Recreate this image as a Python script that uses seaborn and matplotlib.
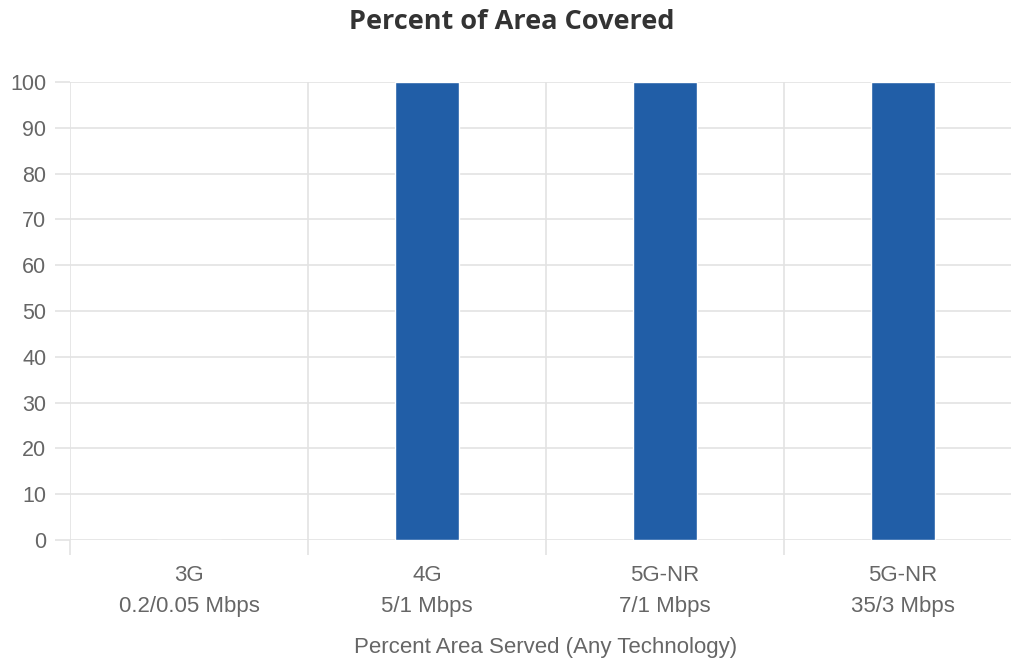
import matplotlib
matplotlib.use("Agg")
import matplotlib.pyplot as plt
import seaborn as sns
import pandas as pd
import numpy as np

technologies = ["3G", "4G", "5G-NR", "5G-NR"]
speeds = ["0.2/0.05 Mbps", "5/1 Mbps", "7/1 Mbps", "35/3 Mbps"]
percent_covered = [0, 100, 100, 100]
y_ticks = [0, 10, 20, 30, 40, 50, 60, 70, 80, 90, 100]

labels = [f"{t}\n{s}" for t, s in zip(technologies, speeds)]
df = pd.DataFrame({"tier": labels, "pct": percent_covered})

sns.set_style("white")
plt.rcParams["font.family"] = ["Liberation Sans", "DejaVu Sans"]

fig = plt.figure(figsize=(10.11, 6.64), dpi=100)
ax = fig.add_axes([70 / 1011, 1 - 540 / 664, 952 / 1011, 458 / 664])

grid_c = "#e3e3e3"
text_c = "#666666"
sns.barplot(data=df, x="tier", y="pct", color="#215ea7", width=0.265,
            saturation=1, ax=ax, zorder=3)

ax.set_xlim(-0.5, len(labels) - 0.5)
ax.set_ylim(0, 100)
ax.set_yticks(y_ticks)
ax.set_yticklabels([str(v) for v in y_ticks])

# category boundaries as vertical grid lines
ax.set_xticks(np.arange(len(labels) + 1) - 0.5, minor=True)
ax.grid(True, which="minor", axis="x", color=grid_c, linewidth=1.2, zorder=0)
ax.grid(True, which="major", axis="y", color=grid_c, linewidth=1.2, zorder=0)
ax.grid(False, which="major", axis="x")

ax.tick_params(axis="y", which="major", left=True, length=11, width=1.2,
               color=grid_c, labelsize=15.5, labelcolor=text_c, pad=6)
ax.tick_params(axis="x", which="major", bottom=True, length=0, labelsize=16,
               labelcolor=text_c, pad=18)
ax.tick_params(axis="x", which="minor", bottom=True, length=11, width=1.2,
               color=grid_c)
for lbl in ax.get_xticklabels():
    lbl.set_linespacing(1.6)

for s in ax.spines.values():
    s.set_visible(False)

ax.set_ylabel("")
ax.set_xlabel("Percent Area Served (Any Technology)", fontsize=16,
              color=text_c, labelpad=15)

fig.text(512 / 1011, 1 - 22 / 664, "Percent of Area Covered",
         ha="center", va="center", fontsize=19.5, fontweight="bold",
         color="#333333", family=["Open Sans", "DejaVu Sans"])

fig.savefig("out.png", dpi=100)
